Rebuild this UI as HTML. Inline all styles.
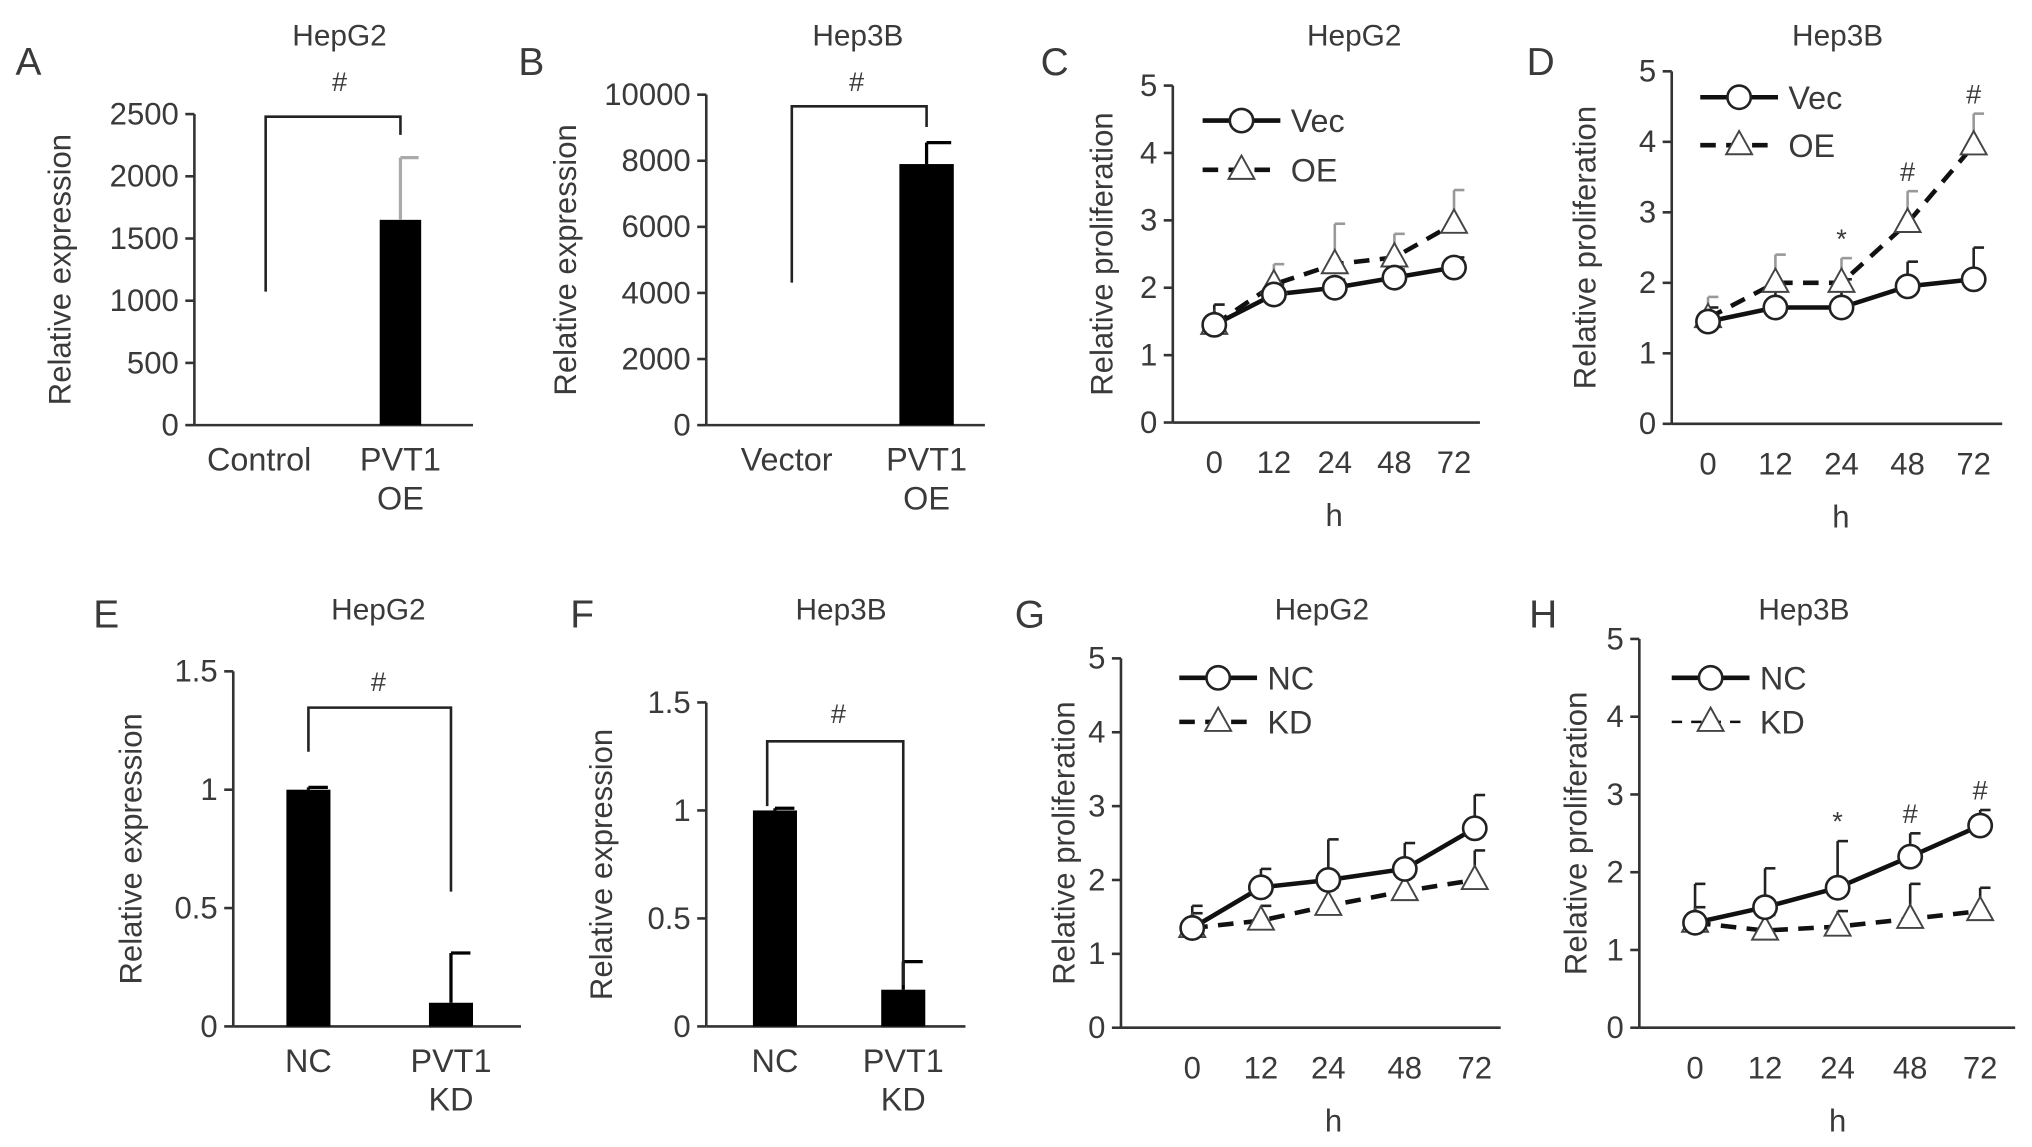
<!DOCTYPE html>
<html><head><meta charset="utf-8"><style>
html,body{margin:0;padding:0;background:#fff}
svg{display:block}
text{font-family:"Liberation Sans",sans-serif;fill:#3a3a3a}
</style></head><body>
<svg id="fig" width="2032" height="1147" viewBox="0 0 1568 885" xmlns="http://www.w3.org/2000/svg"></svg>
<script>
// ---- data ----
const barCatsA=["Control","PVT1|OE"];const barValsA=[0,1650];const barErrA=[0,500];
const barCatsB=["Vector","PVT1|OE"];const barValsB=[0,7900];const barErrB=[0,650];
const barCatsE=["NC","PVT1|KD"];const barValsE=[1.0,0.1];const barErrE=[0.01,0.21];
const barCatsF=["NC","PVT1|KD"];const barValsF=[1.0,0.17];const barErrF=[0.01,0.13];
const timeCats=["0","12","24","48","72"];
const vecC=[1.45,1.9,2.0,2.15,2.3];const vecCErr=[0.3,0.15,0.12,0.12,0.15];
const oeC=[1.45,2.05,2.35,2.45,2.95];const oeCErr=[0.3,0.3,0.6,0.35,0.5];
const vecD=[1.45,1.65,1.65,1.95,2.05];const vecDErr=[0.2,0.25,0.4,0.35,0.45];
const oeD=[1.5,2.0,2.0,2.85,3.95];const oeDErr=[0.3,0.4,0.35,0.45,0.45];
const ncG=[1.35,1.9,2.0,2.15,2.7];const ncGErr=[0.3,0.25,0.55,0.35,0.45];
const kdG=[1.35,1.45,1.65,1.85,2.0];const kdGErr=[0.2,0.2,0.25,0.2,0.4];
const ncH=[1.35,1.55,1.8,2.2,2.6];const ncHErr=[0.5,0.5,0.6,0.3,0.2];
const kdH=[1.35,1.25,1.3,1.4,1.5];const kdHErr=[0.2,0.2,0.2,0.45,0.3];
const sigD=["","","*","#","#"];const sigH=["","","*","#","#"];

const NS="http://www.w3.org/2000/svg";const svg=document.getElementById('fig');
function el(tag,attrs,name,parent){const e=document.createElementNS(NS,tag);for(const k in attrs)e.setAttribute(k,attrs[k]);


(parent||svg).appendChild(e);return e;}
function txt(x,y,s,size,name,extra){const t=el('text',Object.assign({x:x,y:y,'font-size':size,'text-anchor':'middle'},extra||{}),name);t.textContent=s;return t;}
function ylabel(x,y,s,name){txt(x,y,s,24,name,{transform:`rotate(-90 ${x} ${y})`,'dominant-baseline':'middle'});}

function barPanel(o){
  const g=el('g',{},o.id+'-panel');
  const ys=v=>o.y0-(v/o.ymax)*(o.y0-o.y1);
  txt(o.lx,o.ly,o.letter,30,o.id+'-panel-letter',{'text-anchor':'start'});
  txt(o.tx,o.ty,o.title,23,o.id+'-title');
  ylabel(o.ylx,(o.y0+o.y1)/2,'Relative expression',o.id+'-y-axis-title');
  el('line',{x1:o.ax,y1:o.y1,x2:o.ax,y2:o.y0,stroke:'#333','stroke-width':2},o.id+'-y-axis',g);
  el('line',{x1:o.ax,y1:o.y0,x2:o.axEnd,y2:o.y0,stroke:'#333','stroke-width':2},o.id+'-x-axis',g);
  o.ticks.forEach(t=>{el('line',{x1:o.ax-7,y1:ys(t),x2:o.ax,y2:ys(t),stroke:'#333','stroke-width':2},o.id+'-y-tick',g);
    txt(o.ax-12,ys(t)+8,String(t),24,o.id+'-y-tick-label',{'text-anchor':'end'});});
  o.cats.forEach((c,i)=>{const x=o.xs[i];
    if(o.vals[i]>0){el('rect',{x:x-o.bw/2,y:ys(o.vals[i]),width:o.bw,height:o.y0-ys(o.vals[i]),fill:'#000'},o.id+'-bar-'+i,g);
      const et=ys(o.vals[i]+o.errs[i]);
      el('line',{x1:x,y1:ys(o.vals[i]),x2:x,y2:et,stroke:o.ec,'stroke-width':2.5},o.id+'-error-bar',g);
      el('line',{x1:x,y1:et,x2:x+o.bw/2-2,y2:et,stroke:o.ec,'stroke-width':2.5},o.id+'-error-cap',g);}
    c.split('|').forEach((p,j)=>txt(x,o.y0+35+j*30,p,25,o.id+'-x-label'));
  });
  el('polyline',{points:o.br,fill:'none',stroke:'#222','stroke-width':2},o.id+'-significance-bracket',g);
  txt(o.hx,o.hy,'#',21,o.id+'-significance-mark');
}
barPanel({id:'a',letter:'A',lx:12,ly:58,title:'HepG2',tx:262,ty:35,ylx:48,ax:150,axEnd:365,y0:328,y1:88,ymax:2500,ticks:[0,500,1000,1500,2000,2500],
  cats:barCatsA,vals:barValsA,errs:barErrA,xs:[200,309],bw:32,ec:'#aaa',br:'205,225 205,90 309,90 309,104',hx:262,hy:70});
barPanel({id:'b',letter:'B',lx:400,ly:58,title:'Hep3B',tx:662,ty:35,ylx:438,ax:545,axEnd:760,y0:328,y1:73,ymax:10000,ticks:[0,2000,4000,6000,8000,10000],
  cats:barCatsB,vals:barValsB,errs:barErrB,xs:[607,715],bw:42,ec:'#000',br:'611,218 611,82 715,82 715,98',hx:661,hy:70});
barPanel({id:'e',letter:'E',lx:72,ly:484,title:'HepG2',tx:292,ty:478,ylx:103,ax:180,axEnd:402,y0:792,y1:518,ymax:1.5,ticks:[0,0.5,1,1.5],
  cats:barCatsE,vals:barValsE,errs:barErrE,xs:[238,348],bw:34,ec:'#000',br:'238,580 238,546 348,546 348,688',hx:292,hy:533});
barPanel({id:'f',letter:'F',lx:440,ly:484,title:'Hep3B',tx:649,ty:478,ylx:466,ax:545,axEnd:745,y0:792,y1:542,ymax:1.5,ticks:[0,0.5,1,1.5],
  cats:barCatsF,vals:barValsF,errs:barErrF,xs:[598,697],bw:34,ec:'#000',br:'592,622 592,572 697,572 697,760',hx:647,hy:558});

function linePanel(o){
  const g=el('g',{},o.id+'-panel');
  const ys=v=>o.y0-(v/5)*(o.y0-o.y1);
  txt(o.lx,o.ly,o.letter,30,o.id+'-panel-letter',{'text-anchor':'start'});
  txt(o.tx,o.ty,o.title,23,o.id+'-title');
  ylabel(o.ylx,(o.y0+o.y1)/2,'Relative proliferation',o.id+'-y-axis-title');
  el('line',{x1:o.ax,y1:o.y1,x2:o.ax,y2:o.y0,stroke:'#333','stroke-width':2},o.id+'-y-axis',g);
  el('line',{x1:o.ax,y1:o.y0,x2:o.axEnd,y2:o.y0,stroke:'#333','stroke-width':2},o.id+'-x-axis',g);
  [0,1,2,3,4,5].forEach(t=>{el('line',{x1:o.ax-7,y1:ys(t),x2:o.ax,y2:ys(t),stroke:'#333','stroke-width':2},o.id+'-y-tick',g);
    txt(o.ax-12,ys(t)+8,String(t),24,o.id+'-y-tick-label',{'text-anchor':'end'});});
  timeCats.forEach((c,i)=>txt(o.xs[i],o.y0+39,c,24,o.id+'-x-tick-label'));
  txt((o.xs[0]+o.xs[4])/2,o.y0+80,'h',24,o.id+'-x-axis-title');
  const series=[{v:o.s2,e:o.e2,dash:'12,8',mk:'tri',name:o.n2},{v:o.s1,e:o.e1,dash:o.dash1||'',mk:'circ',name:o.n1}];
  series.forEach(s=>{
    s.v.forEach((v,i)=>{const x=o.xs[i],top=ys(v+s.e[i]);
      el('line',{x1:x,y1:ys(v),x2:x,y2:top,stroke:s.mk==='tri'&&o.greyErr?'#999':'#222','stroke-width':2},o.id+'-error-bar',g);
      el('line',{x1:x,y1:top,x2:x+8,y2:top,stroke:s.mk==='tri'&&o.greyErr?'#999':'#222','stroke-width':2},o.id+'-error-cap',g);});
    el('polyline',{points:s.v.map((v,i)=>o.xs[i]+','+ys(v)).join(' '),fill:'none',stroke:'#111','stroke-width':3.5,'stroke-dasharray':s.dash},o.id+'-line-'+s.name,g);
  });
  series.forEach(s=>s.v.forEach((v,i)=>marker(g,s.mk,o.xs[i],ys(v),o.id+'-point-'+s.name)));
  const leg=[[o.n1,o.dash1||'','circ',o.leg1y,3.5],[o.n2,o.legDash2||'12,8','tri',o.leg2y,o.legW2||3.5]];
  leg.forEach(l=>{el('line',{x1:o.legx,y1:l[3],x2:o.legx+60,y2:l[3],stroke:'#111','stroke-width':l[4],'stroke-dasharray':l[1]},o.id+'-legend-line',g);
    marker(g,l[2],o.legx+30,l[3],o.id+'-legend-marker');
    txt(o.legx+68,l[3]+9,l[0],25,o.id+'-legend-label',{'text-anchor':'start'});});
  if(o.sig)o.sig.forEach((s,i)=>{if(s)txt(o.xs[i],ys(o.sigv[i])-8,s,21,o.id+'-significance-mark');});
}
function marker(g,t,x,y,name){
  if(t==='circ')el('circle',{cx:x,cy:y,r:9,fill:'#fff',stroke:'#222','stroke-width':2},name,g);
  else el('polygon',{points:`${x},${y-11} ${x-10},${y+7} ${x+10},${y+7}`,fill:'#fff',stroke:'#444','stroke-width':1.5},name,g);
}
linePanel({id:'c',letter:'C',lx:803,ly:58,title:'HepG2',tx:1045,ty:35,ylx:852,ax:905,axEnd:1142,y0:326,y1:66,xs:[937,983,1030,1076,1122],
  s1:vecC,e1:vecCErr,n1:'Vec',s2:oeC,e2:oeCErr,n2:'OE',legx:928,leg1y:93,leg2y:131,greyErr:true});
linePanel({id:'d',letter:'D',lx:1178,ly:58,title:'Hep3B',tx:1418,ty:35,ylx:1225,ax:1290,axEnd:1545,y0:327,y1:55,xs:[1318,1370,1421,1472,1523],
  s1:vecD,e1:vecDErr,n1:'Vec',s2:oeD,e2:oeDErr,n2:'OE',legx:1312,leg1y:75,leg2y:112,greyErr:true,sig:sigD,sigv:oeD.map((v,i)=>v+oeDErr[i])});
linePanel({id:'g',letter:'G',lx:783,ly:484,title:'HepG2',tx:1020,ty:478,ylx:823,ax:865,axEnd:1158,y0:793,y1:508,xs:[920,973,1025,1084,1138],
  s1:ncG,e1:ncGErr,n1:'NC',s2:kdG,e2:kdGErr,n2:'KD',legx:910,leg1y:523,leg2y:557});
linePanel({id:'h',letter:'H',lx:1180,ly:484,title:'Hep3B',tx:1392,ty:478,ylx:1218,ax:1265,axEnd:1555,y0:793,y1:493,xs:[1308,1362,1418,1474,1528],
  s1:ncH,e1:ncHErr,n1:'NC',s2:kdH,e2:kdHErr,n2:'KD',legx:1290,leg1y:523,leg2y:557,dash1:'',legDash2:'8,7',legW2:2,sig:sigH,sigv:ncH.map((v,i)=>v+ncHErr[i])});
</script>
</body></html>
